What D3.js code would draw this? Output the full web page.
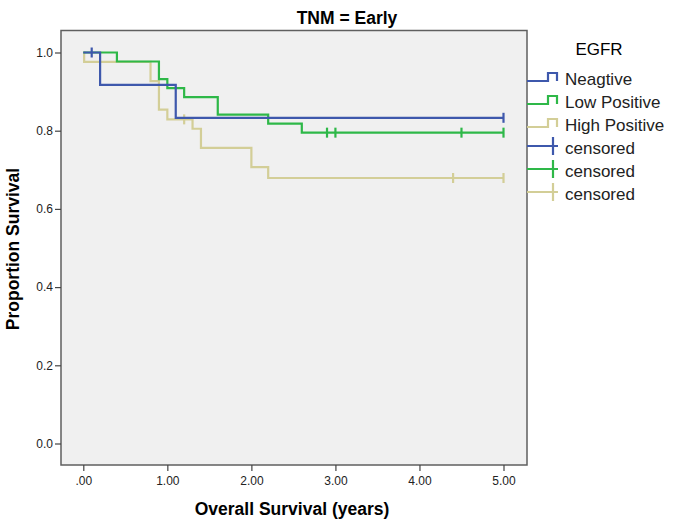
<!DOCTYPE html>
<html>
<head>
<meta charset="utf-8">
<script src="https://cdn.jsdelivr.net/npm/d3@7"></script>
<style>
  body { margin: 0; background: #fff; }
  text { font-family: Arial, "Liberation Sans", sans-serif; }
</style>
</head>
<body>
<svg id="chart" width="673" height="521"></svg>
<script>
// survival steps
var negTimes = [0, 0.2, 1.1, 5.0];
var negSurv = [1, 0.917, 0.833, 0.833];
var negCensTimes = [0.1, 5.0];
var negCensSurv = [1, 0.833];

var lowTimes = [0, 0.4, 0.9, 1.0, 1.2, 1.6, 2.2, 2.6, 5.0];
var lowSurv = [1, 0.977, 0.932, 0.909, 0.886, 0.841, 0.818, 0.795, 0.795];
var lowCensTimes = [2.9, 3.0, 4.5, 5.0];
var lowCensSurv = [0.795, 0.795, 0.795, 0.795];

var highTimes = [0, 0.01, 0.8, 0.9, 1.0, 1.3, 1.4, 2.0, 2.2, 5.0];
var highSurv = [1, 0.976, 0.927, 0.854, 0.829, 0.805, 0.756, 0.707, 0.679, 0.679];
var highCensTimes = [1.2, 4.4, 5.0];
var highCensSurv = [0.829, 0.679, 0.679];

var groupNames = ['Neagtive', 'Low Positive', 'High Positive'];
var groupColors = ['#3e58ac', '#2eb848', '#d3ce97'];
var xTicks = [0, 1, 2, 3, 4, 5];
var yTicks = [0, 0.2, 0.4, 0.6, 0.8, 1.0];

var svg = d3.select('#chart');

// plot frame (note: "top" is reserved on window, so use plot* names)
var plotLeft = 61, plotRight = 527, plotTop = 30.5, plotBottom = 465;

var x = d3.scaleLinear().domain([0, 5]).range([83.3, 503.5]);
var y = d3.scaleLinear().domain([0, 1]).range([443.5, 52.5]);

// plot background
svg.append('rect')
    .attr('x', plotLeft).attr('y', plotTop)
    .attr('width', plotRight - plotLeft).attr('height', plotBottom - plotTop)
    .attr('fill', '#f0f0f0')
    .attr('stroke', '#5f5f5f')
    .attr('stroke-width', 1.5);

// axes
var xAxis = d3.axisBottom(x).tickValues(xTicks).tickSize(6).tickPadding(5)
    .tickFormat(function (d) { return d == 0 ? '.00' : d3.format('.2f')(d); });
var gx = svg.append('g').attr('transform', 'translate(0,' + plotBottom + ')').call(xAxis);
gx.select('.domain').remove();

var yAxis = d3.axisLeft(y).tickValues(yTicks).tickSize(6).tickPadding(2)
    .tickFormat(d3.format('.1f'));
var gy = svg.append('g').attr('transform', 'translate(' + plotLeft + ',0)').call(yAxis);
gy.select('.domain').remove();

svg.selectAll('.tick line').attr('stroke', '#444').attr('stroke-width', 1.2);
svg.selectAll('.tick text').attr('fill', '#222').style('font-size', '12px');

// step curves
var groups = [
    { times: negTimes, surv: negSurv, ct: negCensTimes, cs: negCensSurv },
    { times: lowTimes, surv: lowSurv, ct: lowCensTimes, cs: lowCensSurv },
    { times: highTimes, surv: highSurv, ct: highCensTimes, cs: highCensSurv }
];

var line = d3.line()
    .x(function (d) { return x(d[0]); })
    .y(function (d) { return y(d[1]); })
    .curve(d3.curveStepAfter);

// draw in reverse order so blue ends on top
for (let i = groups.length - 1; i >= 0; i--) {
    var g = groups[i];
    var pts = g.times.map(function (t, j) { return [t, g.surv[j]]; });
    svg.append('path')
        .attr('d', line(pts))
        .attr('fill', 'none')
        .attr('stroke', groupColors[i])
        .attr('stroke-width', 2.2);

    svg.selectAll(null)
        .data(g.ct.map(function (t, j) { return [t, g.cs[j]]; }))
        .enter()
        .append('line')
        .attr('x1', function (d) { return x(d[0]); })
        .attr('x2', function (d) { return x(d[0]); })
        .attr('y1', function (d) { return y(d[1]) - 5; })
        .attr('y2', function (d) { return y(d[1]) + 5; })
        .attr('stroke', groupColors[i])
        .attr('stroke-width', 2.2);
}

// title
svg.append('text')
    .attr('x', 347).attr('y', 24)
    .attr('text-anchor', 'middle')
    .style('font-size', '17.5px').style('font-weight', 'bold')
    .text('TNM = Early');

// axis titles
svg.append('text')
    .attr('x', 292).attr('y', 515)
    .attr('text-anchor', 'middle')
    .style('font-size', '17.5px').style('font-weight', 'bold')
    .text('Overall Survival (years)');

svg.append('text')
    .attr('transform', 'translate(19,249) rotate(-90)')
    .attr('text-anchor', 'middle')
    .style('font-size', '17.5px').style('font-weight', 'bold')
    .text('Proportion Survival');

// legend
svg.append('text')
    .attr('x', 599).attr('y', 55)
    .attr('text-anchor', 'middle')
    .style('font-size', '17px')
    .text('EGFR');

var legRows = [
    { label: groupNames[0], color: groupColors[0], kind: 'step' },
    { label: groupNames[1], color: groupColors[1], kind: 'step' },
    { label: groupNames[2], color: groupColors[2], kind: 'step' },
    { label: 'censored', color: groupColors[0], kind: 'cross' },
    { label: 'censored', color: groupColors[1], kind: 'cross' },
    { label: 'censored', color: groupColors[2], kind: 'cross' }
];

var leg = svg.append('g');
legRows.forEach(function (r, i) {
    var cy = 77 + i * 23;
    if (r.kind == 'step') {
        leg.append('path')
            .attr('d', 'M527,' + (cy + 4) + 'H548V' + (cy - 4) + 'H557V' + (cy + 4))
            .attr('fill', 'none')
            .attr('stroke', r.color)
            .attr('stroke-width', 2.2);
    } else {
        leg.append('path')
            .attr('d', 'M527,' + cy + 'H558M553,' + (cy - 9) + 'V' + (cy + 9))
            .attr('fill', 'none')
            .attr('stroke', r.color)
            .attr('stroke-width', 2.2);
    }
    leg.append('text')
        .attr('x', 565).attr('y', cy + 8)
        .style('font-size', '17px')
        .attr('fill', '#222')
        .text(r.label);
});
</script>
</body>
</html>
